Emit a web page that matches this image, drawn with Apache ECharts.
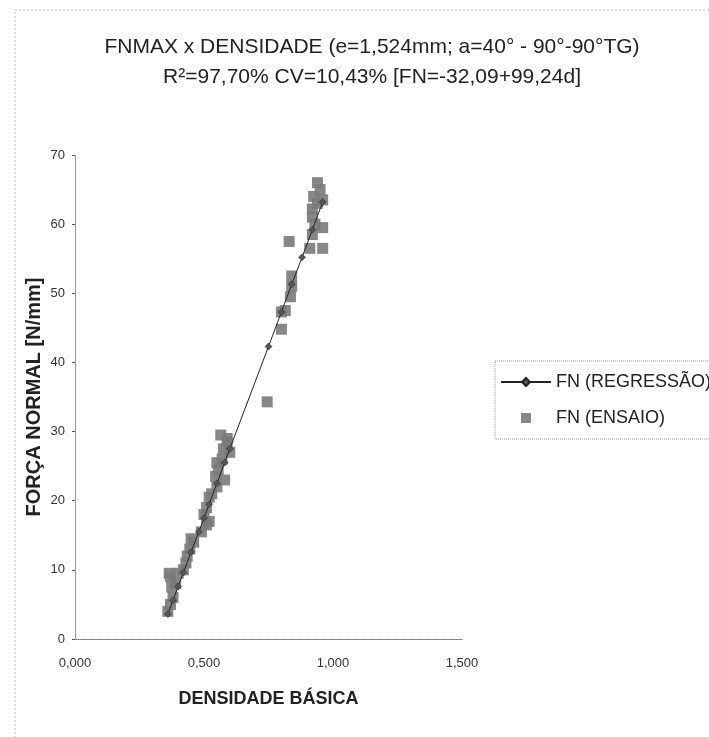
<!DOCTYPE html>
<html>
<head>
<meta charset="utf-8">
<script src="https://cdn.jsdelivr.net/npm/echarts@6/dist/echarts.min.js"></script>
<style>
  html, body { margin: 0; padding: 0; background: #fff; }
  #chart { width: 709px; height: 737px; }
</style>
</head>
<body>
<div id="chart"></div>
<script>
  // pontos: [densidade, força normal]
  var ensaio = [
    [0.36, 4.0], [0.37, 5.0], [0.38, 6.0], [0.375, 7.5], [0.39, 8.0], [0.365, 9.5],
    [0.37, 9.0], [0.40, 9.5], [0.42, 10.0], [0.43, 11.0], [0.435, 12.0], [0.445, 13.0],
    [0.45, 14.5], [0.46, 14.0], [0.49, 15.5], [0.51, 16.5], [0.52, 17.0], [0.50, 18.0],
    [0.51, 19.0], [0.52, 20.5], [0.53, 21.0], [0.55, 22.0], [0.545, 23.5], [0.555, 24.5],
    [0.55, 25.5], [0.57, 26.0], [0.575, 27.5], [0.59, 28.5], [0.565, 29.5], [0.59, 29.0],
    [0.60, 27.0], [0.58, 23.0], [0.745, 34.3], [0.80, 44.8], [0.80, 47.3], [0.815, 47.5],
    [0.835, 49.5], [0.84, 51.0], [0.84, 52.5], [0.83, 57.5], [0.91, 56.5], [0.96, 56.5],
    [0.92, 58.5], [0.96, 59.5], [0.92, 61.0], [0.92, 62.2], [0.96, 63.5], [0.925, 64.0],
    [0.94, 66.0], [0.95, 65.0], [0.93, 60.0], [0.94, 63.0]
  ];
  var regressao = [
    [0.36, 3.6], [0.38, 5.6], [0.40, 7.6], [0.42, 9.6], [0.45, 12.6], [0.48, 15.5],
    [0.50, 17.5], [0.52, 19.5], [0.55, 22.5], [0.58, 25.5], [0.60, 27.5], [0.75, 42.3],
    [0.80, 47.3], [0.84, 51.3], [0.88, 55.2], [0.92, 59.2], [0.96, 63.2]
  ];
  var xTicks = ['0,000', '0,500', '1,000', '1,500'];
  var yTicks = ['0', '10', '20', '30', '40', '50', '60', '70'];

  var font = '"Liberation Sans", Arial, sans-serif';
  var myChart = echarts.init(document.getElementById('chart'));
  var option = {
    backgroundColor: '#fff',
    animation: false,
    title: {
      text: 'FNMAX x DENSIDADE (e=1,524mm; a=40° - 90°-90°TG)\nR²=97,70% CV=10,43% [FN=-32,09+99,24d]',
      left: 367,
      top: 27,
      textAlign: 'center',
      textStyle: { fontFamily: font, fontSize: 21, fontWeight: 'normal', color: '#222', lineHeight: 30 }
    },
    legend: {
      orient: 'vertical',
      left: 495,
      top: 361,
      padding: [12, 30, 12, 5],
      itemGap: 18,
      itemWidth: 50,
      itemHeight: 10,
      borderColor: '#999',
      borderWidth: 1,
      borderType: 'dotted',
      textStyle: { fontFamily: font, fontSize: 18, color: '#222' },
      data: [
        { name: 'FN (REGRESSÃO)' },
        { name: 'FN (ENSAIO)', icon: 'path://M0,0h10v10h-10z' }
      ]
    },
    grid: { left: 75, right: 247, top: 155, bottom: 98 },
    xAxis: [{
      type: 'value',
      min: 0, max: 1.5, interval: 0.5,
      name: 'DENSIDADE BÁSICA',
      nameLocation: 'middle',
      nameGap: 51,
      nameMoveOverlap: false,
      nameTextStyle: { fontFamily: font, fontSize: 18, fontWeight: 'bold', color: '#222' },
      axisLine: { lineStyle: { color: '#333', width: 1 } },
      axisTick: { show: false },
      splitLine: { show: false },
      axisLabel: {
        fontFamily: font, fontSize: 13, color: '#333', margin: 18,
        formatter: function (v) { return xTicks[Math.round(v / 0.5)]; }
      }
    }, {
      type: 'value', position: 'top', min: 0, max: 1.5,
      axisLine: { show: true, lineStyle: { color: '#999', type: 'dotted' } },
      axisTick: { show: false }, axisLabel: { show: false }, splitLine: { show: false }
    }],
    yAxis: [{
      type: 'value',
      min: 0, max: 70, interval: 10,
      name: 'FORÇA NORMAL [N/mm]',
      nameLocation: 'middle',
      nameGap: 31,
      nameMoveOverlap: false,
      nameTextStyle: { fontFamily: font, fontSize: 20, fontWeight: 'bold', color: '#222' },
      axisLine: { show: true, lineStyle: { color: '#666', width: 1, type: 'dotted' } },
      axisTick: { show: true, length: 3, lineStyle: { color: '#555' } },
      splitLine: { show: false },
      axisLabel: {
        fontFamily: font, fontSize: 13, color: '#333', margin: 10,
        formatter: function (v) { return yTicks[Math.round(v / 10)]; }
      }
    }, {
      type: 'value', position: 'right', min: 0, max: 70,
      axisLine: { show: true, lineStyle: { color: '#999', type: 'dotted' } },
      axisTick: { show: false }, axisLabel: { show: false }, splitLine: { show: false }
    }],
    graphic: [{
      type: 'rect',
      shape: { x: 15, y: 10, width: 720, height: 760 },
      style: { fill: 'none', stroke: '#bbb', lineWidth: 1, lineDash: [2, 2] },
      silent: true
    }],
    series: [
      {
        name: 'FN (ENSAIO)',
        type: 'scatter',
        symbol: 'rect',
        symbolSize: 11,
        itemStyle: { color: '#7a7a7a', opacity: 0.9 },
        data: ensaio,
        z: 2
      },
      {
        name: 'FN (REGRESSÃO)',
        type: 'line',
        symbol: 'diamond',
        symbolSize: 7,
        showAllSymbol: true,
        lineStyle: { color: '#222', width: 1 },
        itemStyle: { color: '#555', borderColor: '#222', borderWidth: 0.5 },
        data: regressao,
        z: 3
      }
    ]
  };
  myChart.setOption(option);
</script>
</body>
</html>
